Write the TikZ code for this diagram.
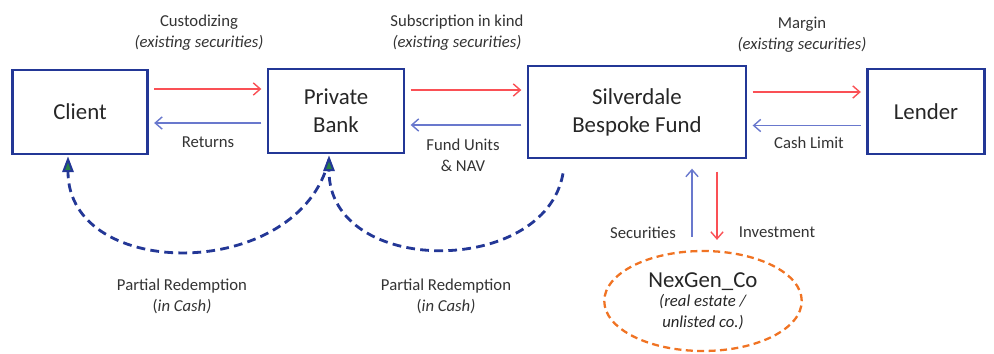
\documentclass[tikz,border=0pt]{standalone}
\usepackage{fontspec}
\setmainfont{Carlito}
\usetikzlibrary{arrows.meta,calc,shapes.geometric}

\definecolor{boxblue}{RGB}{35,55,150}
\definecolor{flowred}{RGB}{250,80,85}
\definecolor{flowblue}{RGB}{105,120,205}
\definecolor{tipgreen}{RGB}{40,130,70}
\definecolor{nexorange}{RGB}{240,115,35}

\begin{document}
\begin{tikzpicture}[
  x=0.02cm,
  y=-0.02cm,
  font=\fontsize{9.5}{12}\selectfont,
  box/.style={draw=boxblue, line width=1.6pt, align=center, text=black!85, font=\fontsize{13}{16}\selectfont},
  lbl/.style={align=center, text=black!80},
  give/.style={-{Straight Barb[length=4pt,width=7pt]}, draw=flowred, line width=0.8pt, shorten <=3pt, shorten >=3pt},
  back/.style={-{Straight Barb[length=4pt,width=7pt]}, draw=flowblue, line width=0.8pt, shorten <=3pt, shorten >=3pt},
  redeem/.style={-{Triangle[length=9pt,width=6.5pt,fill=tipgreen,line width=1.2pt]}, draw=boxblue, line width=1.6pt, dash pattern=on 5pt off 3pt}
]
  \useasboundingbox (0,0) rectangle (994,353);

  % main parties
  \node[box, minimum width=2.7cm, minimum height=1.68cm] (client) at (80,112) {Client};
  \node[box, minimum width=2.72cm, minimum height=1.68cm] (bank) at (336,111) {Private\\Bank};
  \node[box, minimum width=4.36cm, minimum height=1.84cm] (fund) at (637,112) {Silverdale\\Bespoke Fund};
  \node[box, minimum width=2.34cm, minimum height=1.7cm] (lender) at (926,111.5) {Lender};
  \node[ellipse, draw=nexorange, line width=1.3pt, dash pattern=on 4pt off 2.5pt,
        minimum width=3.95cm, minimum height=2cm, align=center, text=black!85] (nexgen) at (703,301)
        {{\fontsize{13}{15}\selectfont NexGen\_Co}\\[-1pt]\textit{(real estate /}\\\textit{unlisted co.)}};

  % flows between the boxes
  \draw[give] ($(client.east)+(0,-23)$) -- ($(client.east -| bank.west)+(0,-23)$);
  \draw[back] ($(bank.west)+(0,12)$) -- ($(bank.west -| client.east)+(0,12)$);
  \draw[give] ($(bank.east)+(0,-21)$) -- ($(bank.east -| fund.west)+(0,-21)$);
  \draw[back] ($(fund.west)+(0,13)$) -- ($(fund.west -| bank.east)+(0,13)$);
  \draw[give] ($(fund.east)+(0,-20)$) -- ($(fund.east -| lender.west)+(0,-20)$);
  \draw[back] ($(lender.west)+(0,14)$) -- ($(lender.west -| fund.east)+(0,14)$);

  % flows to and from the holding
  \draw[back, shorten <=0pt] ($(nexgen.north)+(-11,-13)$) -- ($(fund.south -| nexgen.north)+(-11,4)$);
  \draw[give, shorten >=0pt] ($(fund.south -| nexgen.north)+(14,7)$) -- ($(nexgen.north)+(14,-10)$);

  % redemptions in cash
  \draw[redeem] ($(bank.south)+(-7,5)$) .. controls (300,282) and (68,282) .. ($(client.south)+(-12,1)$);
  \draw[redeem] ($(fund.south)+(-74,14)$) .. controls (545,277) and (329,277) .. ($(bank.south)+(-7,1)$);

  % labels
  \node[lbl] (custlbl) at (199,33) {Custodizing\\\textit{(existing securities)}};
  \node[lbl] (subslbl) at (457,33) {Subscription in kind\\\textit{(existing securities)}};
  \node[lbl] (marginlbl) at (802,35) {Margin\\\textit{(existing securities)}};
  \node[lbl] (retlbl) at (208,142) {Returns};
  \node[lbl] (unitslbl) at (463,155) {Fund Units\\\& NAV};
  \node[lbl] (cashlbl) at (809,143) {Cash Limit};
  \node[lbl] (seclbl) at (643,233) {Securities};
  \node[lbl] (invlbl) at (777,232) {Investment};
  \node[lbl] (redlbl) at (182,296) {Partial Redemption\\(\textit{in Cash)}};
  \node[lbl] (redlbltwo) at (446,296) {Partial Redemption\\(\textit{in Cash)}};
\end{tikzpicture}
\end{document}
